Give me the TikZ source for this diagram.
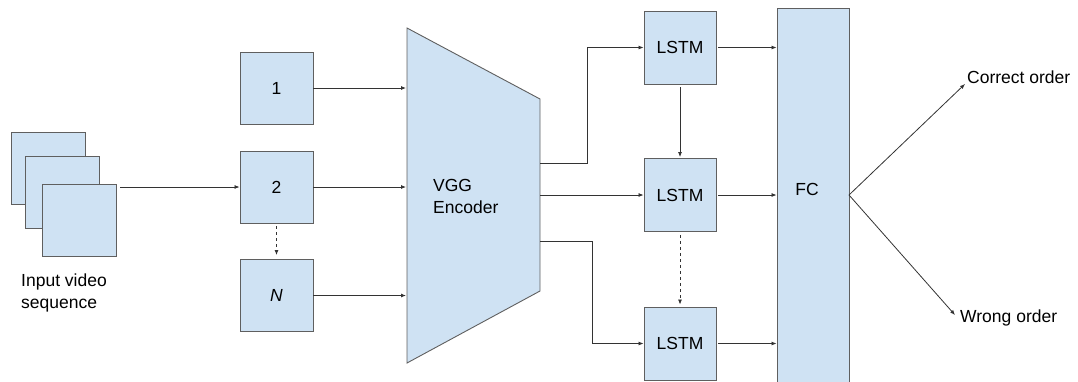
\documentclass[tikz,border=0pt]{standalone}
\usepackage{fontspec}
\setmainfont{Liberation Sans}
\usetikzlibrary{arrows.meta}
\definecolor{boxblue}{HTML}{CFE2F3}
\definecolor{edgegray}{HTML}{5F5F5F}
\definecolor{linegray}{HTML}{333333}
\begin{document}
\begin{tikzpicture}
[
	x=1pt,
	y=-1pt,
	block/.style={draw=edgegray,fill=boxblue,line width=0.9pt,inner sep=0pt,minimum width=73pt,minimum height=72pt,font=\fontsize{17.5}{22}\selectfont},
	lstmbox/.style={block,minimum width=72pt,minimum height=73pt},
	lbl/.style={inner sep=0pt,font=\fontsize{17.5}{22}\selectfont},
	link/.style={draw=linegray,line width=0.8pt,-{Latex[length=5pt,width=4pt]}}
]
	\useasboundingbox (0,0) rectangle (1078,381);

	% input frames
	\node[block,minimum width=74pt] (frameA) at (48,168) {};
	\node[block,minimum width=74pt] (frameB) at (62.5,192.5) {};
	\node[block,minimum width=74pt] (frameC) at (79,220) {};
	\node[lbl,anchor=north west,align=left] (inputText) at (21,274) {Input video\\sequence};

	% sampled clips
	\node[block] (clipA) at (276.5,88) {1};
	\node[block] (clipB) at (276.5,187) {2};
	\node[block] (clipN) at (276.5,295.5) {\textit{N}};

	\draw[link] ([xshift=4pt]frameC.east |- clipB.west) -- (clipB.west);
	\draw[link,dashed] ([yshift=-3pt]clipB.south) -- ([yshift=4pt]clipN.north);

	% encoder
	\coordinate (encTL) at (407,28);
	\coordinate (encTR) at (540,99);
	\coordinate (encBR) at (540,291);
	\coordinate (encBL) at (407,363);
	\draw[draw=edgegray,fill=boxblue,line width=0.9pt] (encTL) -- (encTR) -- (encBR) -- (encBL) -- cycle;
	\node[lbl,anchor=west,align=left] (encText) at (433,196) {VGG\\Encoder};

	\coordinate (encInA) at (406,88);
	\coordinate (encInB) at (406,187);
	\coordinate (encInN) at (406,295.5);
	\coordinate (encOutA) at (540,163);
	\coordinate (encOutB) at (540,195);
	\coordinate (encOutC) at (540,241);

	\draw[link] (clipA.east) -- (encInA);
	\draw[link] (clipB.east) -- (encInB);
	\draw[link] (clipN.east) -- (encInN);

	% recurrent part
	\node[lstmbox] (lstmA) at (680,47.5) {LSTM};
	\node[lstmbox] (lstmB) at (680,195) {LSTM};
	\node[lstmbox] (lstmC) at (680,343.5) {LSTM};

	\draw[link] (encOutA) -- ++(47,0) |- (lstmA.west);
	\draw[link] (encOutB) -- (lstmB.west);
	\draw[link] (encOutC) -- ++(52,0) |- (lstmC.west);

	\draw[link] ([yshift=-3pt]lstmA.south) -- ([yshift=1pt]lstmB.north);
	\draw[link,dashed] ([yshift=-3pt]lstmB.south) -- ([yshift=2pt]lstmC.north);

	% classifier
	\node[block,minimum width=72pt,minimum height=384pt] (fc) at (813,200) {};
	\node[lbl] (fcText) at (807,189) {FC};

	\draw[link] ([xshift=2pt]lstmA.east) -- (lstmA.east -| fc.west);
	\draw[link] ([xshift=2pt]lstmB.east) -- (lstmB.east -| fc.west);
	\draw[link] ([xshift=2pt]lstmC.east) -- (lstmC.east -| fc.west);

	% outputs
	\coordinate (fcOut) at (849,195);
	\node[lbl,anchor=base west] (correct) at (967,83) {Correct order};
	\node[lbl,anchor=base west] (wrong) at (960,322) {Wrong order};
	\coordinate (correctTip) at (965,84);
	\coordinate (wrongTip) at (955,315);

	\draw[link] (fcOut) -- (correctTip);
	\draw[link] (fcOut) -- (wrongTip);

\end{tikzpicture}
\end{document}
